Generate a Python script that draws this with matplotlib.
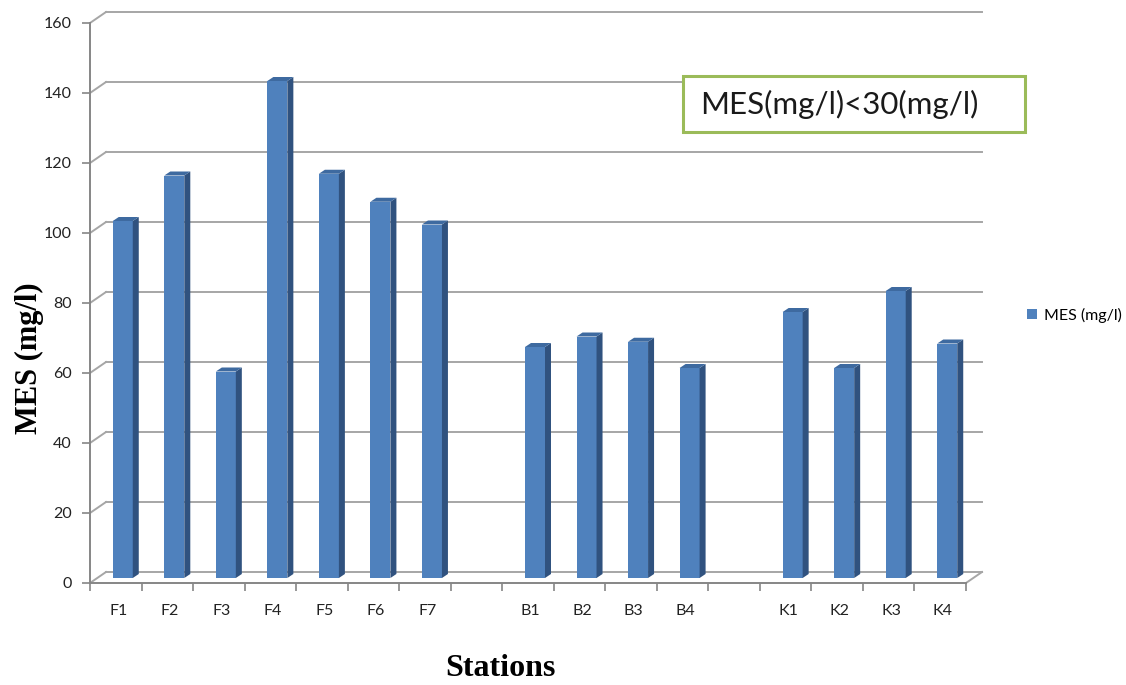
"""
MES (mg/l) par station - histogramme style Excel 3D
"""

import numpy as np
import matplotlib
matplotlib.use('Agg')
import matplotlib.pyplot as plt
from matplotlib.patches import Polygon, Rectangle

plt.rcParams['font.family'] = ['Lato', 'DejaVu Sans']

# Données
stations = ['F1', 'F2', 'F3', 'F4', 'F5', 'F6', 'F7', '',
            'B1', 'B2', 'B3', 'B4', '',
            'K1', 'K2', 'K3', 'K4']
mes = [102, 115, 59, 142, 115.5, 107.5, 101, np.nan,
       66, 69, 67.5, 60, np.nan,
       76, 60, 82, 67]
y_ticks = [0, 20, 40, 60, 80, 100, 120, 140, 160]

# Couleurs
C_FACE = '#4F81BD'
C_COTE = '#30527F'
C_HAUT = '#3E6AA0'
C_GRILLE = '#A6A6A6'
C_AXE = '#868686'

W, H = 1126, 685
fig = plt.figure(figsize=(W / 100, H / 100), dpi=100)
ax = fig.add_axes([90 / W, 102 / H, 876 / W, 560 / H])

n = len(stations)
ax.set_xlim(0, n)
ax.set_ylim(0, 160)

# conversions pixels -> données
px_x = n / 876.0
px_y = 160 / 560.0

# profondeur du mur du fond
back_dx = 16 * px_x
back_dy = 11 * px_y

# grille sur le mur du fond + diagonales à gauche
for v in y_ticks:
    ax.plot([0, back_dx], [v, v + back_dy], color=C_GRILLE, lw=1.4,
            clip_on=False, zorder=1)
    ax.plot([back_dx, n + back_dx], [v + back_dy, v + back_dy],
            color=C_GRILLE, lw=1.4, clip_on=False, zorder=1)
# bord droit du sol
ax.plot([n, n + back_dx], [0, back_dy], color=C_GRILLE, lw=1.4,
        clip_on=False, zorder=1)

# barres (face avant)
x = np.arange(n) + 0.5 + 7 * px_x
largeur = 20 * px_x
base = 5 * px_y
vals = np.array(mes, dtype=float)
barres = ax.bar(x, vals, width=largeur, bottom=base, color=C_FACE,
                zorder=3, label='MES (mg/l)')

# faces latérales et supérieures
ddx = 6 * px_x
ddy = 4 * px_y
for xi, v in zip(x, vals):
    if np.isnan(v):
        continue
    x0 = xi - largeur / 2
    x1 = xi + largeur / 2
    top = base + v
    cote = Polygon([(x1, base), (x1 + ddx, base + ddy),
                    (x1 + ddx, top + ddy), (x1, top)],
                   closed=True, color=C_COTE, zorder=3, lw=0)
    haut = Polygon([(x0, top), (x1, top), (x1 + ddx, top + ddy),
                    (x0 + ddx, top + ddy)],
                   closed=True, color=C_HAUT, zorder=3, lw=0)
    ax.add_patch(cote)
    ax.add_patch(haut)

# axes
for s in ['top', 'right']:
    ax.spines[s].set_visible(False)
for s in ['left', 'bottom']:
    ax.spines[s].set_color(C_AXE)
    ax.spines[s].set_linewidth(1.4)

ax.set_yticks(y_ticks)
ax.set_yticklabels([str(t) for t in y_ticks])
ax.tick_params(axis='y', direction='out', length=6, width=1.2,
               color=C_AXE, pad=7, labelsize=11.5, labelcolor='#222222')

ax.set_xticks(np.arange(n + 1))
ax.set_xticklabels([])
ax.tick_params(axis='x', which='major', direction='out', length=6,
               width=1.2, color=C_AXE)
ax.set_xticks(np.arange(n) + 0.55, minor=True)
ax.set_xticklabels(stations, minor=True)
ax.tick_params(axis='x', which='minor', length=0, pad=15, labelsize=11.5,
               labelcolor='#222222')

# titres des axes
fig.text(500 / W, 1 - 669 / H, 'Stations', family='Liberation Serif',
         fontweight='bold', fontsize=23, ha='center', va='center')
fig.text(29 / W, 1 - 358 / H, 'MES (mg/l)', family='Liberation Serif',
         fontweight='bold', fontsize=22, ha='center', va='center',
         rotation=90)

# légende
fig.legend(handles=[barres], loc='center left',
           bbox_to_anchor=(1013 / W, 1 - 315 / H), frameon=False,
           handlelength=0.6, handleheight=0.6, handletextpad=0.45,
           fontsize=11.5)

# encadré norme
cadre = Rectangle((683 / W, 1 - 132 / H), 342 / W, 56 / H,
                  transform=fig.transFigure, fill=True, facecolor='white',
                  edgecolor='#9BBB59', lw=2.2, zorder=5)
fig.patches.append(cadre)
fig.text(700 / W, 1 - 104 / H, 'MES(mg/l)<30(mg/l)', fontsize=22.5,
         va='center', ha='left', color='#1a1a1a', zorder=6)

plt.savefig('out.png', dpi=100)
plt.close()
